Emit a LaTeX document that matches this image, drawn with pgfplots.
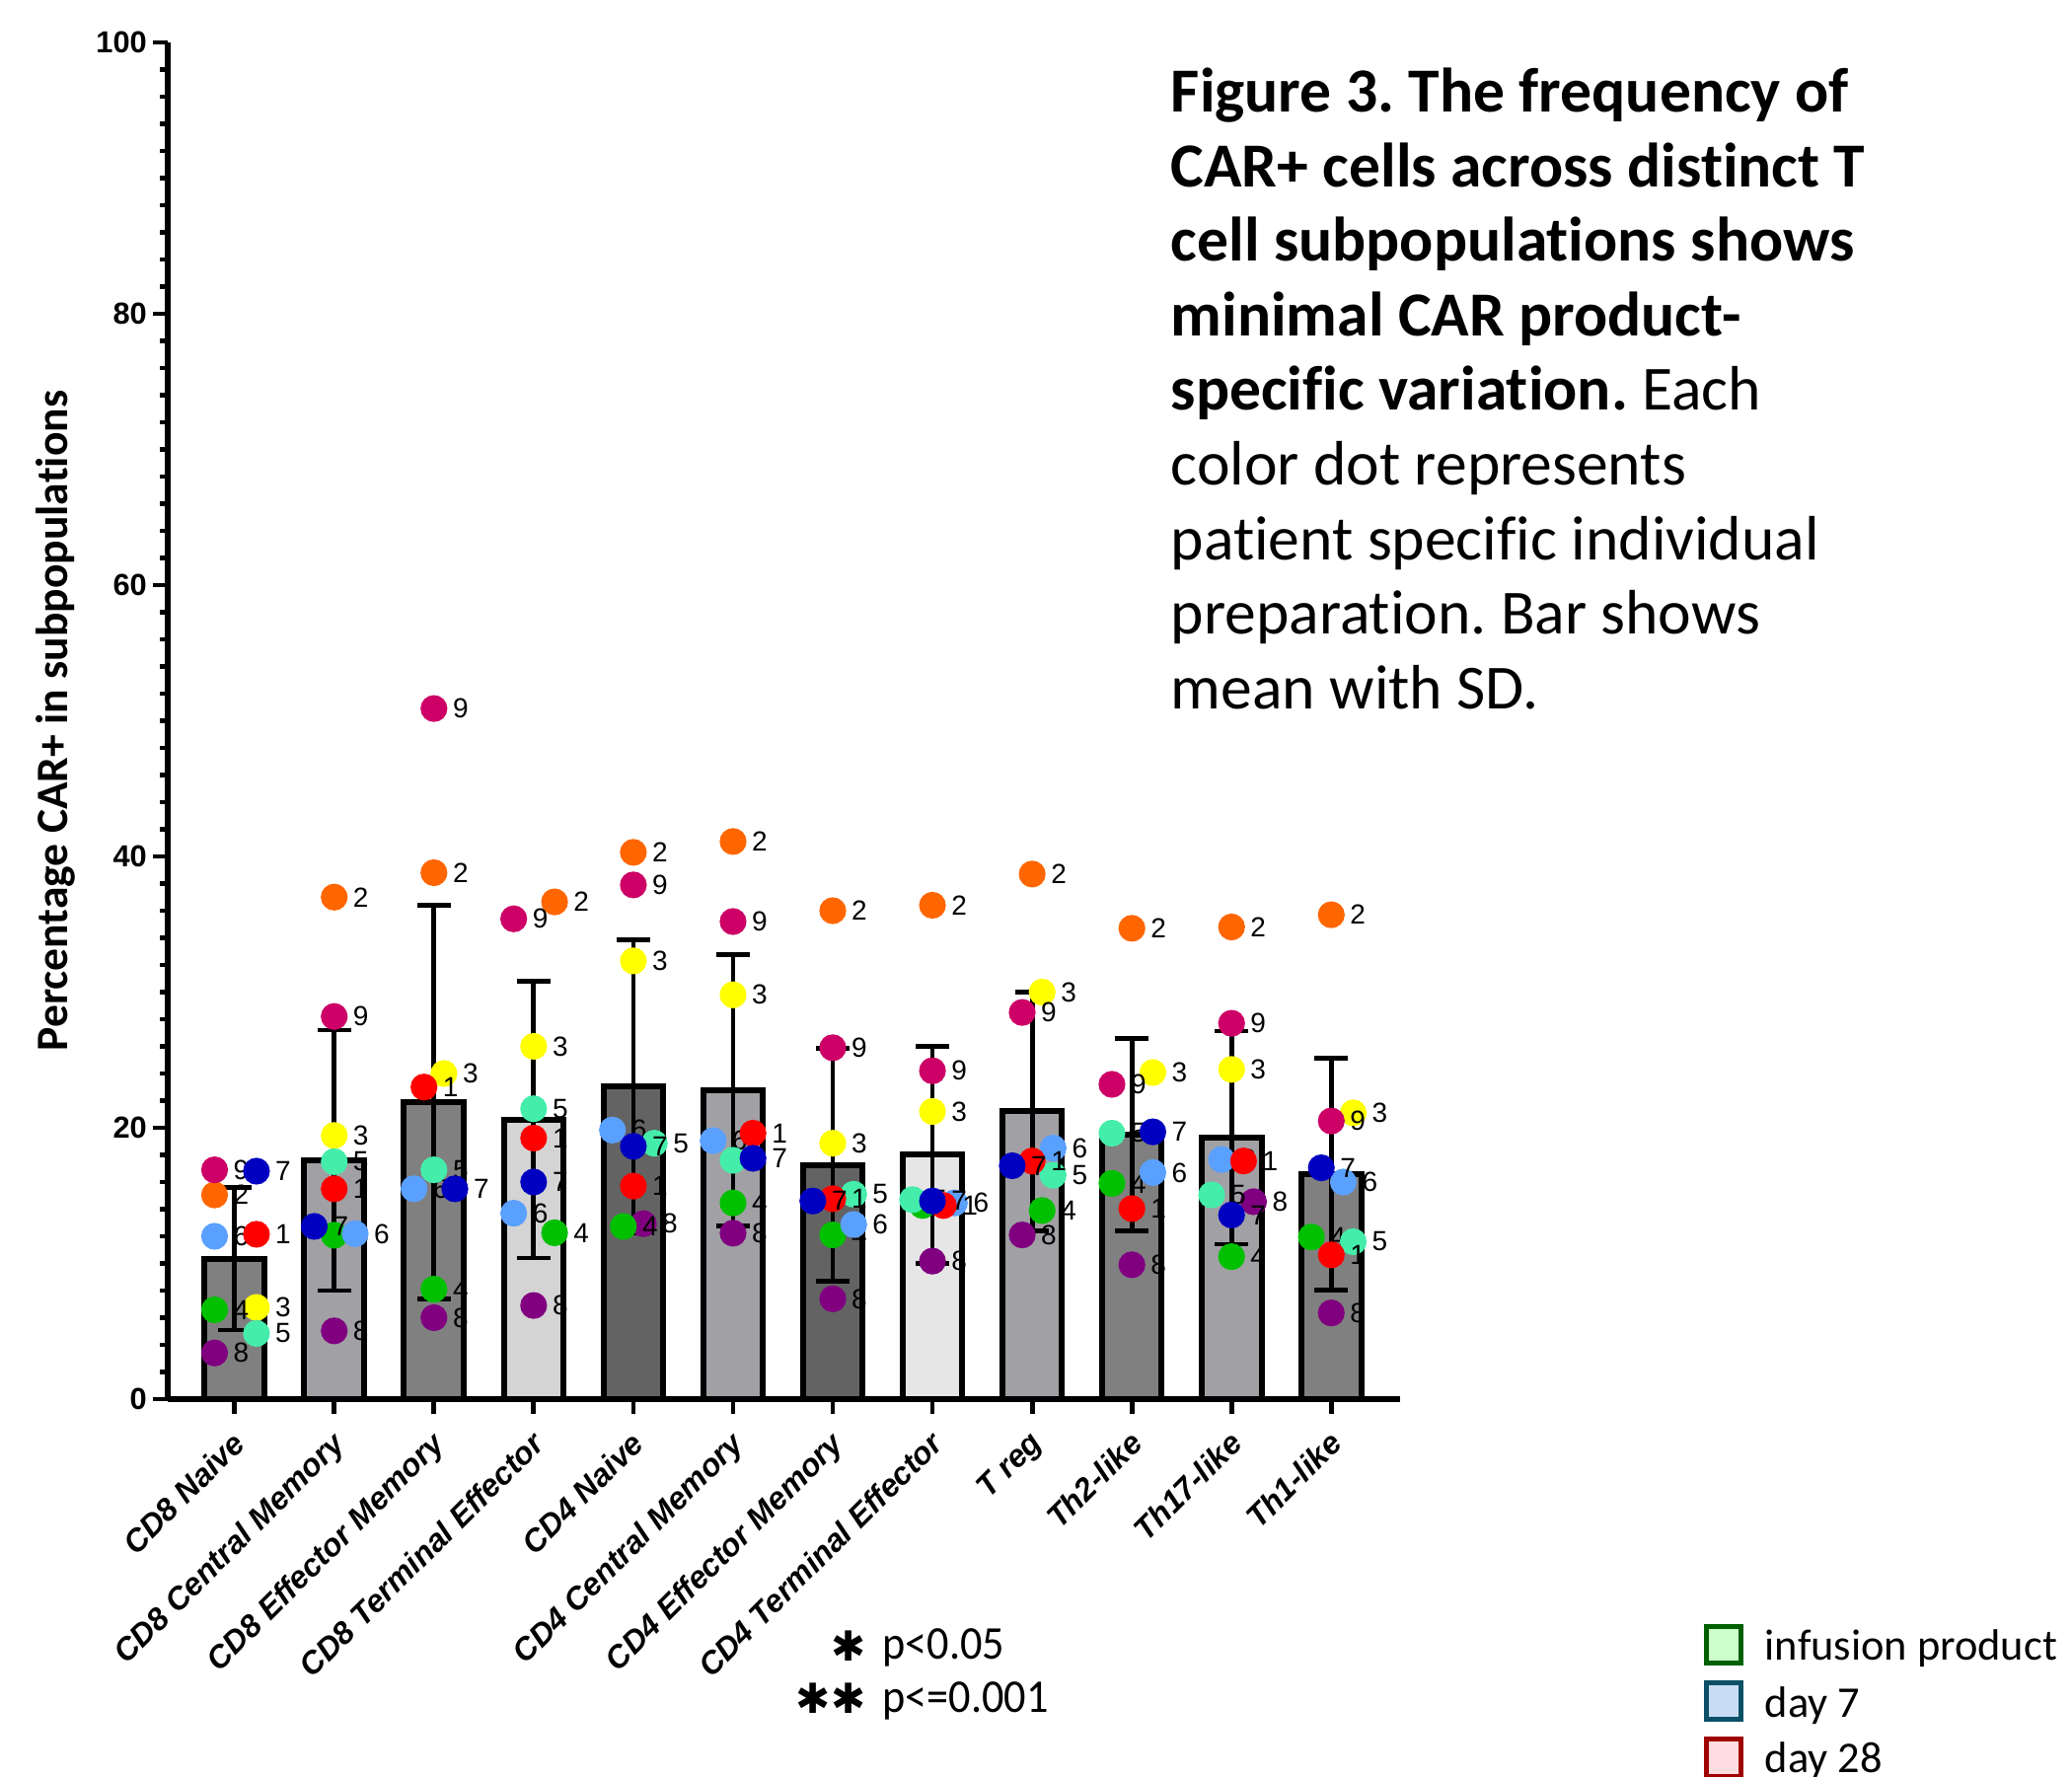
\documentclass[border=0pt]{standalone}
\usepackage{fontspec}
\setmainfont{Liberation Sans}
\newfontfamily\carlito[Ligatures=NoCommon]{Carlito}
\newfontfamily\carlitoc[FakeStretch=0.93,Ligatures=NoCommon]{Carlito}
\newfontfamily\dejavu{DejaVu Sans}
\usepackage{pgfplots}
\pgfplotsset{compat=1.18}
\frenchspacing
\definecolor{p1}{HTML}{FF0000}
\definecolor{p2}{HTML}{FF6600}
\definecolor{p3}{HTML}{FFFF00}
\definecolor{p4}{HTML}{00C000}
\definecolor{p5}{HTML}{44EEAA}
\definecolor{p6}{HTML}{5AA0FF}
\definecolor{p7}{HTML}{0000C0}
\definecolor{p8}{HTML}{800080}
\definecolor{p9}{HTML}{CC0066}
\definecolor{gA}{HTML}{808080}
\definecolor{gB}{HTML}{A1A1A5}
\definecolor{gC}{HTML}{D4D4D4}
\definecolor{gD}{HTML}{636363}
\definecolor{gE}{HTML}{E6E6E6}
\definecolor{lgG}{HTML}{006000}
\definecolor{lgGf}{HTML}{CCFFCC}
\definecolor{lgB}{HTML}{0B5066}
\definecolor{lgBf}{HTML}{C8DCF5}
\definecolor{lgR}{HTML}{A00000}
\definecolor{lgRf}{HTML}{FFDDE0}
\pgfplotsset{
  dot/.style={only marks, mark=*, mark size=3.2pt, color=#1,
    nodes near coords,
    every node near coord/.append style={anchor=west, xshift=4.6pt, inner sep=0pt,
      text=black, font=\fontsize{7}{8}\selectfont}},
  bar/.style={ybar, bar shift=0pt, bar width=0.6, fill=#1, draw=black, line width=1.5pt}
}
\begin{document}
\begin{tikzpicture}
\useasboundingbox (0pt,0pt) rectangle (525pt,450pt);
\clip (0pt,0pt) rectangle (525pt,450pt);
\begin{axis}[
  at={(42.5pt,95.5pt)}, anchor=south west,
  scale only axis, width=312.25pt, height=343.75pt,
  xmin=-0.67, xmax=11.69, ymin=0, ymax=100,
  clip=false,
  axis lines*=left,
  axis line style={line width=1.4pt, black},
  tick align=outside,
  major tick length=3.75pt, minor tick length=1.9pt,
  tick style={line width=1.2pt, black},
  ytick={0,20,40,60,80,100},
  minor y tick num=9,
  xtick={0,1,2,3,4,5,6,7,8,9,10,11},
  xticklabels={CD8 Naive,CD8 Central Memory,CD8 Effector Memory,CD8 Terminal Effector,CD4 Naive,CD4 Central Memory,CD4 Effector Memory,CD4 Terminal Effector,T reg,Th2-like,Th17-like,Th1-like},
  x tick label style={xshift=-1pt, yshift=1pt, rotate=45, anchor=north east, font=\bfseries\itshape\fontsize{8}{9.5}\selectfont},
  y tick label style={xshift=2pt, font=\bfseries\fontsize{7.7}{9}\selectfont},
  /pgf/number format/assume math mode=true,
  ylabel={Percentage CAR+ in subpopulations},
  ylabel style={font=\carlito\bfseries\fontsize{11.4}{13}\selectfont, at={(axis description cs:-0.0913,0.5)}, anchor=center},
]
% bars (mean)
\addplot[bar=gA] coordinates {(0,10.34) (2,21.9) (9,19.5) (11,16.58)};
\addplot[bar=gB] coordinates {(1,17.6) (5,22.76) (8,21.2) (10,19.27)};
\addplot[bar=gC] coordinates {(3,20.6)};
\addplot[bar=gD] coordinates {(4,23.03) (6,17.27)};
\addplot[bar=gE] coordinates {(7,18.0)};
% SD error bars
\addplot[draw=none, mark=none,
  error bars/.cd, y dir=both, y explicit,
  error bar style={draw=black, line width=1.2pt, solid},
  error mark options={rotate=90, draw=black, line width=1.2pt, mark size=4.25pt}]
  coordinates {(0,10.34) +- (0,5.25) (1,17.6) +- (0,9.6) (2,21.9) +- (0,14.5) (3,20.6) +- (0,10.2)
  (4,23.03) +- (0,10.8) (5,22.76) +- (0,10.0) (6,17.27) +- (0,8.6) (7,18.0) +- (0,8.0)
  (8,21.2) +- (0,8.8) (9,19.5) +- (0,7.1) (10,19.27) +- (0,7.85) (11,16.58) +- (0,8.55)};
% patients
\addplot[dot=p2, nodes near coords={2}] coordinates {(-0.2,15.05) (1,37.0) (2,38.8) (3.21,36.65) (4,40.3) (5,41.1) (6,36.0) (7,36.4) (8,38.7) (9,34.7) (10,34.8) (11,35.7)};
\addplot[dot=p3, nodes near coords={3}] coordinates {(0.22,6.76) (1,19.43) (2.1,24.0) (3,26.0) (4,32.3) (5,29.8) (6,18.86) (7,21.2) (8.1,30.0) (9.21,24.07) (10,24.3) (11.22,21.1)};
\addplot[dot=p9, nodes near coords={9}] coordinates {(-0.2,16.9) (1,28.2) (2,50.9) (2.8,35.4) (4,37.9) (5,35.2) (6,25.9) (7,24.2) (7.9,28.5) (8.8,23.2) (10,27.7) (11,20.5)};
\addplot[dot=p8, nodes near coords={8}] coordinates {(-0.2,3.4) (1,5.03) (2,6.0) (3,6.9) (4.1,12.93) (5,12.23) (6,7.39) (7,10.17) (7.9,12.1) (9,9.9) (10.22,14.55) (11,6.35)};
\addplot[dot=p4, nodes near coords={4}] coordinates {(-0.2,6.58) (1,12.08) (2,8.1) (3.21,12.26) (3.9,12.73) (5,14.46) (6,12.1) (6.9,14.27) (8.1,13.9) (8.8,15.9) (10,10.5) (10.8,11.95)};
\addplot[dot=p6, nodes near coords={6}] coordinates {(-0.2,12.0) (1.21,12.19) (1.8,15.5) (2.8,13.7) (3.79,19.83) (4.8,19.05) (6.21,12.87) (7.22,14.46) (8.21,18.5) (9.21,16.7) (9.9,17.66) (11.12,16.0)};
\addplot[dot=p5, nodes near coords={5}] coordinates {(0.22,4.84) (1,17.5) (2,16.9) (3,21.4) (4.21,18.86) (5,17.6) (6.21,15.1) (6.8,14.7) (8.21,16.5) (8.8,19.6) (9.8,15.05) (11.22,11.6)};
\addplot[dot=p1, nodes near coords={1}] coordinates {(0.22,12.15) (1,15.5) (1.9,23.0) (3,19.24) (4,15.7) (5.2,19.6) (6,14.77) (7.11,14.27) (8,17.55) (9,14.04) (10.12,17.55) (11,10.63)};
\addplot[dot=p7, nodes near coords={7}] coordinates {(0.22,16.8) (0.8,12.73) (2.21,15.5) (3,16.0) (4,18.63) (5.2,17.75) (5.8,14.6) (7,14.6) (7.8,17.2) (9.21,19.7) (10,13.57) (10.9,17.05)};
\end{axis}
% caption
\node[anchor=base west, inner sep=0pt] at (296.5pt,421.6pt) {\parbox[t]{225pt}{\raggedright\carlito\fontsize{15.9}{18.9}\selectfont
\textbf{Figure 3. The frequency of}\\
\textbf{CAR+ cells across distinct T}\\
\textbf{cell subpopulations shows}\\
\textbf{minimal CAR product-}\\
\textbf{specific variation.} Each\\
color dot represents\\
patient specific individual\\
preparation. Bar shows\\
mean with SD.}};
% significance key
\node[anchor=base east, inner sep=0pt] at (219.5pt,29.2pt) {\dejavu\fontsize{10.5}{12}\selectfont ✱};
\node[anchor=base west, inner sep=0pt] at (223.4pt,29.5pt) {\carlitoc\fontsize{11.9}{14}\selectfont p<0.05};
\node[anchor=base east, inner sep=0pt] at (219.5pt,15.95pt) {\dejavu\fontsize{10.5}{12}\selectfont ✱✱};
\node[anchor=base west, inner sep=0pt] at (223.4pt,16.25pt) {\carlitoc\fontsize{11.9}{14}\selectfont p<=0.001};
% time-point legend
\draw[line width=1.2pt, draw=lgG, fill=lgGf] (432.4pt,28.6pt) rectangle (441.1pt,37.9pt);
\draw[line width=1.2pt, draw=lgB, fill=lgBf] (432.4pt,14.4pt) rectangle (441.1pt,23.7pt);
\draw[line width=1.2pt, draw=lgR, fill=lgRf] (432.4pt,0pt) rectangle (441.1pt,9.3pt);
\node[anchor=base west, inner sep=0pt] at (447pt,29.3pt) {\carlito\fontsize{11.1}{13}\selectfont infusion product};
\node[anchor=base west, inner sep=0pt] at (447pt,15pt) {\carlito\fontsize{11.1}{13}\selectfont day 7};
\node[anchor=base west, inner sep=0pt] at (447pt,0.8pt) {\carlito\fontsize{11.1}{13}\selectfont day 28};
\end{tikzpicture}
\end{document}
